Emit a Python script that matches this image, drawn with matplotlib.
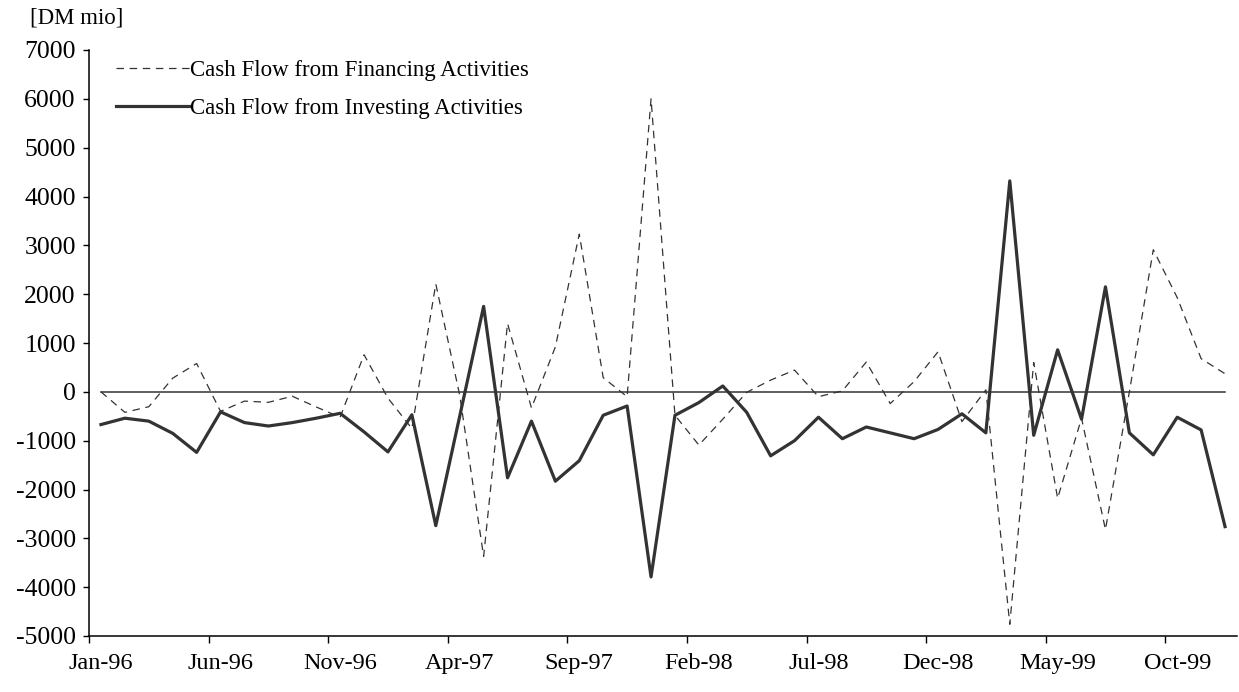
import numpy as np
import matplotlib
matplotlib.use("Agg")
import matplotlib.pyplot as plt

# monthly values Jan-96 .. Dec-99, DM mio
financing = [0, -420, -305, 280, 580, -400, -190, -215, -90, -310,
             -520, 760, -130, -750, 2210, -70, -3370, 1400, -330, 920,
             3230, 290, -100, 6000, -480, -1090, -560, -10, 240, 445,
             -100, 20, 610, -240, 210, 820, -610, 40, -4760, 600,
             -2180, -540, -2820, 0, 2910, 1930, 680, 370]
investing = [-670, -540, -600, -850, -1240, -410, -630, -700, -630, -540,
             -440, -820, -1230, -470, -2740, -500, 1750, -1760, -600, -1830,
             -1410, -480, -290, -3790, -480, -220, 120, -420, -1310, -1000,
             -520, -960, -720, -840, -960, -770, -450, -840, 4320, -890,
             860, -560, 2150, -840, -1290, -520, -780, -2760]
tick_labels = ["Jan-96", "Jun-96", "Nov-96", "Apr-97", "Sep-97",
               "Feb-98", "Jul-98", "Dec-98", "May-99", "Oct-99"]
y_ticks = list(range(-5000, 7001, 1000))

plt.rcParams['font.family'] = ['Liberation Serif', 'DejaVu Serif']

W, H = 1239, 692
fig = plt.figure(figsize=(W / 100, H / 100), dpi=100)
ax = fig.add_axes([89 / W, 1 - 636 / H, (1237 - 89) / W, (636 - 50) / H])

x = np.arange(len(investing))
ink = '#333333'

# zero line runs only from first to last month
ax.plot(x, np.zeros(len(x)), color=ink, lw=1.1)
l1, = ax.plot(x, financing, color=ink, lw=0.9, dashes=(6, 4.5),
              label="Cash Flow from Financing Activities")
l2, = ax.plot(x, investing, color=ink, lw=2.3,
              label="Cash Flow from Investing Activities")

ax.set_xlim(-0.5, len(x) - 0.5)
ax.set_ylim(-5000, 7000)

ax.set_yticks(y_ticks)
ax.set_yticklabels([str(v) for v in y_ticks])
ax.tick_params(axis='y', length=4.5, width=1, direction='out', pad=5,
               labelsize=18.5, color='black')

major = np.arange(0, len(x), 5)
ax.set_xticks(major)
ax.set_xticklabels(tick_labels)
ax.set_xticks(major - 0.5, minor=True)
ax.tick_params(axis='x', which='major', length=0, pad=12, labelsize=17.5)
ax.tick_params(axis='x', which='minor', length=5, width=1, direction='out')

for side in ['top', 'right']:
    ax.spines[side].set_visible(False)
for side in ['left', 'bottom']:
    ax.spines[side].set_linewidth(1.1)

ax.legend(handles=[l1, l2], loc='upper left',
          bbox_to_anchor=(27 / (1237 - 89), 1 - 10 / (636 - 50)),
          frameon=False, fontsize=16.5, handlelength=3.2, handletextpad=0.05,
          borderpad=0, borderaxespad=0, labelspacing=0.75)

fig.text(30 / W, 1 - 18 / H, "[DM mio]", fontsize=16.5, ha='left', va='center')

fig.savefig('out.png', dpi=100)
